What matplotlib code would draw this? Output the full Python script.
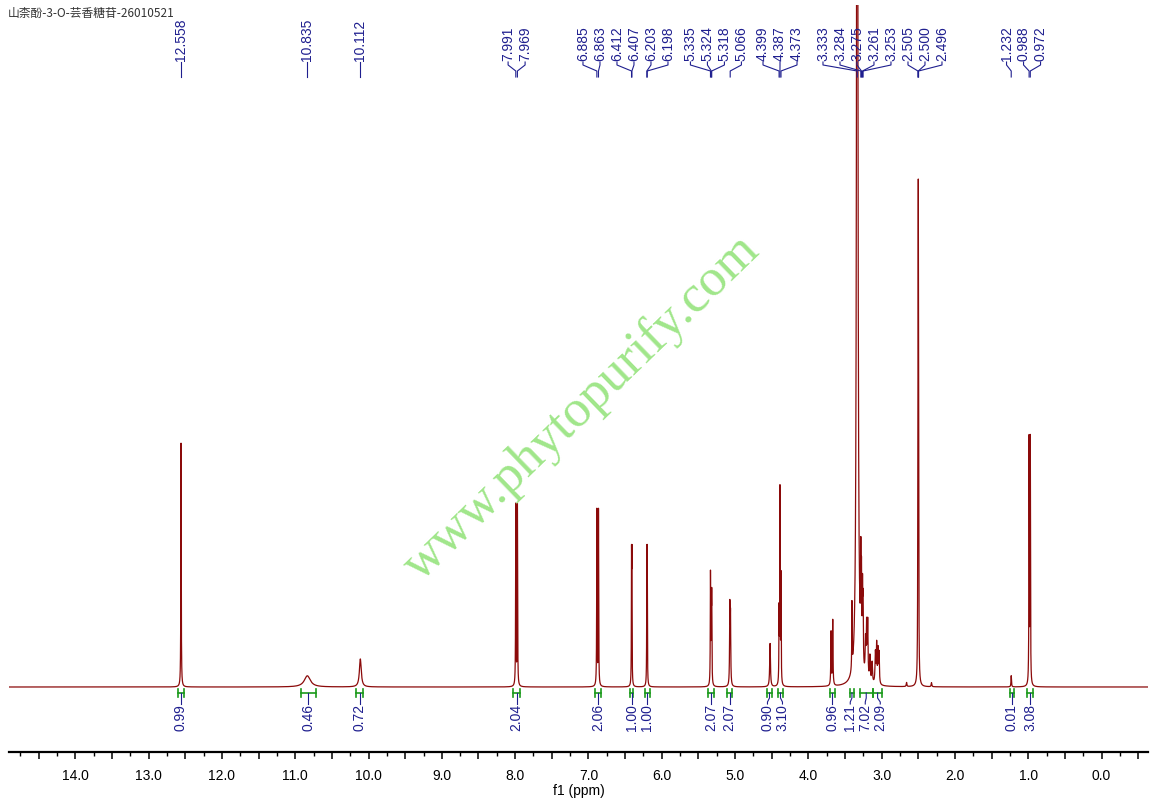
import numpy as np
import matplotlib.pyplot as plt
from matplotlib import transforms
from matplotlib.ticker import MultipleLocator, FuncFormatter

plt.rcParams["font.family"] = ["Liberation Sans", "DejaVu Sans"]

title = "山柰酚-3-O-芸香糖苷-26010521"

# 谱峰 (ppm, 高度 DMSO=1, 半峰宽)
peak_ppm = [12.558, 10.835, 10.112, 7.991, 7.969, 6.885, 6.863, 6.412, 6.407,
            6.203, 6.198, 5.335, 5.324, 5.318, 5.071, 5.062, 4.522, 4.399, 4.387,
            4.373, 3.690, 3.667, 3.405, 3.333, 3.284, 3.275, 3.261, 3.253, 3.220,
            3.205, 3.190, 3.160, 3.130, 3.085, 3.068, 3.050, 3.035, 2.660, 2.505,
            2.500, 2.496, 2.320, 1.232, 0.988, 0.972]
peak_height = [0.479, 0.022, 0.055, 0.355, 0.355, 0.345, 0.345, 0.232, 0.232,
               0.232, 0.232, 0.215, 0.14, 0.16, 0.15, 0.13, 0.085, 0.14, 0.38,
               0.21, 0.105, 0.128, 0.13, 3.2, 0.18, 0.15, 0.14, 0.12, 0.07,
               0.10, 0.11, 0.05, 0.04, 0.06, 0.075, 0.065, 0.06, 0.008, 0.4,
               0.77, 0.4, 0.008, 0.022, 0.48, 0.48]
peak_hwhm = [0.003, 0.05, 0.015, 0.003, 0.003, 0.003, 0.003, 0.0025, 0.0025,
             0.0025, 0.0025, 0.003, 0.003, 0.003, 0.004, 0.004, 0.006, 0.003, 0.003,
             0.003, 0.004, 0.004, 0.003, 0.008, 0.004, 0.004, 0.004, 0.004, 0.006,
             0.005, 0.005, 0.006, 0.006, 0.006, 0.005, 0.005, 0.005, 0.005, 0.0028,
             0.0028, 0.0028, 0.005, 0.004, 0.003, 0.003]

# 峰标注
label_groups = [[12.558], [10.835], [10.112], [7.991, 7.969], [6.885, 6.863],
                [6.412, 6.407], [6.203, 6.198], [5.335, 5.324, 5.318], [5.066],
                [4.399, 4.387, 4.373], [3.333, 3.284, 3.275, 3.261, 3.253],
                [2.505, 2.500, 2.496], [1.232], [0.988, 0.972]]

# 积分
int_left = [12.60, 10.92, 10.17, 8.03, 6.91, 6.43, 6.23, 5.37, 5.11, 4.57,
            4.42, 3.71, 3.43, 3.30, 3.12, 1.25, 1.01]
int_right = [12.52, 10.72, 10.07, 7.93, 6.83, 6.39, 6.16, 5.29, 5.04, 4.49,
             4.34, 3.64, 3.38, 3.12, 2.99, 1.20, 0.94]
int_value = ["0.99", "0.46", "0.72", "2.04", "2.06", "1.00", "1.00", "2.07", "2.07",
             "0.90", "3.10", "0.96", "1.21", "7.02", "2.09", "0.01", "3.08"]

W, H = 1157, 808
xl, xr = 14.905, -0.634

fig = plt.figure(figsize=(W / 100, H / 100), dpi=100)
ax = fig.add_axes([9 / W, (H - 752) / H, (1148 - 9) / W, (752 - 5) / H])

x = np.linspace(xl, xr, 80000)
y = np.zeros_like(x)
for p, h, w in zip(peak_ppm, peak_height, peak_hwhm):
    y += h / (1 + ((x - p) / w) ** 2)

ax.plot(x, y, color="#8B0A0A", lw=0.9)
ax.set_xlim(xl, xr)
ax.set_ylim(-65 / 509, 682 / 509)

for s in ["top", "left", "right"]:
    ax.spines[s].set_visible(False)
ax.spines["bottom"].set_linewidth(1.6)
ax.set_yticks([])
ax.xaxis.set_major_locator(MultipleLocator(0.5))
ax.xaxis.set_minor_locator(MultipleLocator(0.25))
ax.xaxis.set_major_formatter(FuncFormatter(lambda v, pos: "%.1f" % v if abs(v - round(v)) < 1e-6 else ""))
ax.tick_params(axis="x", which="major", length=5, width=1.1, labelsize=10, pad=7)
ax.tick_params(axis="x", which="minor", length=3, width=1.0)
ax.set_xlabel("f1 (ppm)", fontsize=10, labelpad=1)

trans = transforms.blended_transform_factory(ax.transData, fig.transFigure)


def fy(py):
    return 1 - py / H


def spread(pos, gap):
    # pos: ppm 降序; 返回互不重叠的标注位置
    clusters = [[p] for p in pos]
    changed = True
    while changed:
        changed = False
        for i in range(len(clusters) - 1):
            a, b = clusters[i], clusters[i + 1]
            a_last = np.mean(a) - (len(a) - 1) * gap / 2
            b_first = np.mean(b) + (len(b) - 1) * gap / 2
            if a_last - b_first < gap:
                clusters[i] = a + b
                del clusters[i + 1]
                changed = True
                break
    out = []
    for c in clusters:
        first = np.mean(c) + (len(c) - 1) * gap / 2
        out += [first - k * gap for k in range(len(c))]
    return out


ppm_per_px = (xl - xr) / (1148 - 9)
blue = "#1f1f8f"
green = "#1a9a1a"

# 峰标注
all_peaks = [p for g in label_groups for p in g]
lab_x = spread(all_peaks, 17 * ppm_per_px)
for p, lx in zip(all_peaks, lab_x):
    ax.text(lx, fy(61), "%.3f" % p, transform=trans, rotation=90, ha="center",
            va="bottom", fontsize=10, color=blue, clip_on=False)
    ax.plot([lx, lx, p, p], [fy(62), fy(65), fy(71), fy(77)], transform=trans,
            color=blue, lw=0.8, clip_on=False)

# 积分
centers = [(a + b) / 2 for a, b in zip(int_left, int_right)]
int_x = spread(centers, 15 * ppm_per_px)
for a, b, c, ix, v in zip(int_left, int_right, centers, int_x, int_value):
    ax.plot([a, b], [fy(693), fy(693)], transform=trans, color=green, lw=1.2, clip_on=False)
    for e in (a, b):
        ax.plot([e, e], [fy(689), fy(697)], transform=trans, color=green, lw=1.2, clip_on=False)
    ax.plot([c, c, ix, ix], [fy(693), fy(698), fy(702), fy(704)], transform=trans,
            color=blue, lw=0.8, clip_on=False)
    ax.text(ix, fy(704), v, transform=trans, rotation=90, ha="center", va="top",
            fontsize=10, color=blue, clip_on=False)

# 水印
fig.text(582 / W, fy(408), "www.phytopurify.com", rotation=44, ha="center", va="center",
         rotation_mode="anchor", fontsize=38, color="#A0E68A", family="Liberation Serif")

fig.text(8 / W, fy(13), title, ha="left", va="center", fontsize=8.5, color="#333333",
         family=["Noto Sans CJK SC", "DejaVu Sans"])

fig.savefig("out.png", dpi=100)
